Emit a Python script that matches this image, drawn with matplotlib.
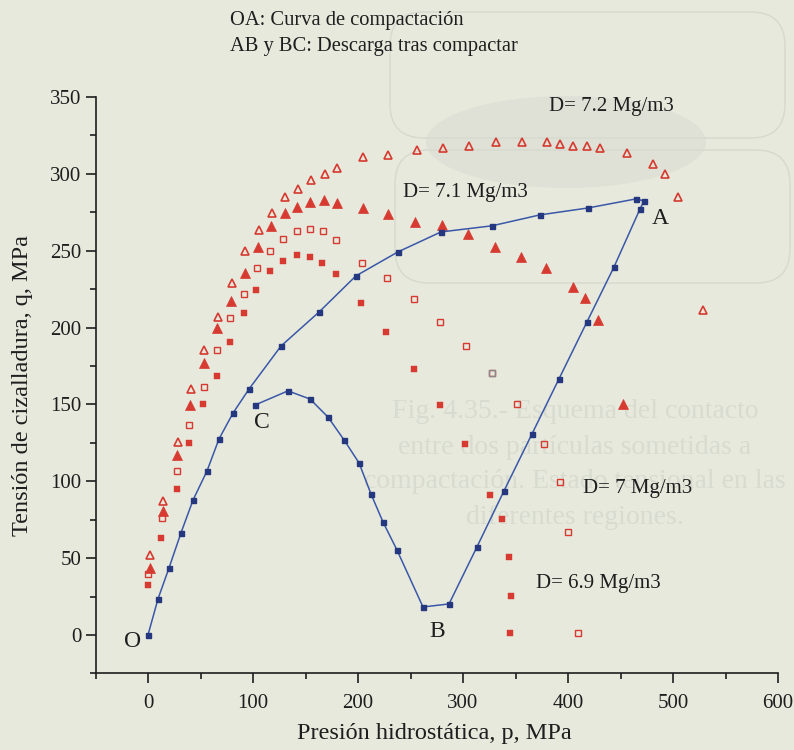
import matplotlib
matplotlib.use("Agg")
import matplotlib.pyplot as plt
from matplotlib.patches import Ellipse, FancyBboxPatch
from matplotlib.ticker import MultipleLocator

# ---- data: hydrostatic pressure p (MPa) vs shear stress q (MPa) ----
# compaction curve O-A followed by unloading A-B and B-C
path_p = [0, 9.5, 20, 31.4, 42.9, 56.2, 67.6, 81, 96.2, 126.7, 162.9, 198, 238,
          279, 327.6, 373.3, 419, 464.8, 472.4, 468.6, 443.8, 418, 391.4, 365.7,
          339, 313.3, 286.7, 261.9, 237.1, 223.8, 212.4, 201, 186.7, 171.4,
          154.3, 133.3, 101.9]
path_q = [0, 23.4, 43.6, 66.4, 87.8, 106.7, 127.5, 144.4, 160, 188, 210.1, 233.6,
          249.2, 262.2, 266.2, 273.3, 277.8, 283.7, 282.4, 277.2, 239.4, 203.6,
          166.6, 130.8, 93.7, 57.3, 20.2, 18.2, 55.3, 73.5, 91.7, 111.9, 126.9,
          141.8, 153.5, 158.8, 149.6]

# yield surfaces for each density
d72_p = [1.9, 14.3, 28.6, 41, 53.3, 66.7, 80, 92.4, 105.7, 118.1, 130.5, 142.9,
         155.2, 168.6, 180, 204.8, 228.6, 256.2, 281, 305.7, 331.4, 356.2, 380,
         392.4, 404.8, 418.1, 430.5, 456.2, 481, 492.4, 504.8, 528.6]
d72_q = [52, 87.2, 125.6, 160, 185.4, 206.9, 229, 249.8, 263.5, 274.6, 285, 290.2,
         296, 300, 303.8, 311, 312.3, 315.5, 316.8, 318.1, 320.8, 320.8, 320.8,
         319.5, 318.1, 318.1, 316.8, 313.6, 306.4, 300, 285, 211.4]

d71_p = [1.9, 14.3, 27.6, 40, 53.3, 65.7, 79, 92.4, 104.8, 117.1, 130.5, 141.9,
         154.3, 167.6, 180, 204.8, 228.6, 254.3, 280, 304.8, 330.5, 355.2, 379,
         404.8, 416.2, 428.6, 452.4]
d71_q = [43.6, 80.7, 117.1, 149.6, 177, 199.7, 217.3, 235.5, 252.4, 266.1, 274.6,
         278.5, 281.7, 283, 281, 277.8, 273.9, 268.7, 266.8, 260.9, 252.4, 245.9,
         238.8, 226.4, 219.3, 204.9, 150.3]

d70_p = [0, 13.3, 27.6, 39, 53.3, 65.7, 78.1, 91.4, 103.8, 116.2, 128.6, 141.9,
         154.3, 166.7, 179, 203.8, 227.6, 253.3, 278.1, 302.9, 327.6, 351.4,
         377.1, 392.4, 400, 409.5]
d70_q = [39.7, 76.1, 106.7, 136.6, 161.4, 185.4, 206.2, 221.9, 238.8, 249.8,
         257.6, 262.9, 264.2, 262.9, 257, 242, 232.3, 218.6, 203.6, 188, 170.5,
         150.3, 124.3, 99.5, 67, 1.3]

d69_p = [0, 12.4, 27.6, 39, 52.4, 65.7, 78.1, 91.4, 102.9, 116.2, 128.6, 141.9,
         154.3, 165.7, 179, 202.9, 226.7, 253.3, 278.1, 301.9, 325.7, 337.1,
         343.8, 345.7, 344.8]
d69_q = [32.5, 63.1, 95, 124.9, 150.3, 168.5, 190.6, 209.5, 224.5, 236.8, 243.3,
         247.2, 245.9, 242, 234.9, 216, 197.1, 173.1, 149.6, 124.3, 91.1, 75.5,
         50.7, 25.4, 1.3]

x_ticks = [0, 100, 200, 300, 400, 500, 600]
y_ticks = [0, 50, 100, 150, 200, 250, 300, 350]

W, H = 794, 750
BG = "#e7e9dd"
RED = "#d63a30"
NAVY = "#24377f"
LINE_BLUE = "#3a57a8"
INK = "#1e1e1e"
SERIF = ["Liberation Serif", "DejaVu Serif"]

plt.rcParams["font.family"] = SERIF

fig = plt.figure(figsize=(W / 100, H / 100), dpi=100, facecolor=BG)

# page layer behind the chart: faint shapes and caption (pixel coordinates)
bg = fig.add_axes([0, 0, 1, 1], zorder=-1)
bg.set_xlim(0, W)
bg.set_ylim(H, 0)
bg.axis("off")
bg.add_patch(Ellipse((566, 142), 280, 92, facecolor="#dfe1d6", edgecolor="none"))
for (x0, y0, x1, y1) in [(390, 12, 785, 138), (395, 150, 790, 283)]:
    bg.add_patch(FancyBboxPatch((x0, y0), x1 - x0, y1 - y0,
                                boxstyle="round,pad=0,rounding_size=34",
                                facecolor="none", edgecolor="#d6d9ce", lw=1.0))
caption = ["Fig. 4.35.- Esquema del contacto",
           "entre dos partículas sometidas a",
           "compactación. Estado tensional en las",
           "diferentes regiones."]
for i, line in enumerate(caption):
    bg.text(575, 412 + i * 35, line, ha="center", va="center",
            fontsize=20, color="#d8dbcf")

left, right, top, bottom = 95.5, 778, 97, 673.4
ax = fig.add_axes([left / W, 1 - bottom / H, (right - left) / W, (bottom - top) / H],
                  zorder=1)
ax.set_facecolor("none")
ax.set_xlim(-50, 600)
ax.set_ylim(-25, 350)

for s in ("top", "right"):
    ax.spines[s].set_visible(False)
for s in ("left", "bottom"):
    ax.spines[s].set_linewidth(1.2)
    ax.spines[s].set_color(INK)

ax.set_xticks(x_ticks)
ax.set_yticks(y_ticks)
ax.xaxis.set_minor_locator(MultipleLocator(50))
ax.yaxis.set_minor_locator(MultipleLocator(25))
ax.tick_params(which="major", length=7, width=1.2, color=INK,
               labelsize=15, labelcolor=INK)
ax.tick_params(which="minor", length=4, width=1.2, color=INK)
ax.tick_params(axis="x", which="major", pad=8)
ax.tick_params(axis="y", which="major", pad=3)

# density series
ax.plot(d72_p, d72_q, ls="none", marker="^", ms=6.3, mfc="none", mec=RED, mew=1.2)
ax.plot(d71_p, d71_q, ls="none", marker="^", ms=6.8, mfc=RED, mec=RED, mew=0.5)
ax.plot(d70_p, d70_q, ls="none", marker="s", ms=4.2, mfc="none", mec=RED, mew=1.0)
ax.plot(d70_p[20], d70_q[20], ls="none", marker="s", ms=4.2, mfc="none",
        mec="#8a8a8a", mew=1.0)
ax.plot(d69_p, d69_q, ls="none", marker="s", ms=4, mfc=RED, mec=RED, mew=0.3)

# loading / unloading path
ax.plot(path_p, path_q, color=LINE_BLUE, lw=1.1, marker="s", ms=3.6,
        mfc=NAVY, mec=NAVY, zorder=3)

txt = dict(fontsize=15, color=INK, va="center", ha="left")
ax.text(382, 343.5, "D= 7.2 Mg/m3", **txt)
ax.text(243, 287.6, "D= 7.1 Mg/m3", **txt)
ax.text(414, 95, "D= 7 Mg/m3", **txt)
ax.text(369.5, 33.8, "D= 6.9 Mg/m3", **txt)

pt = dict(fontsize=17, color=INK, va="center", ha="center")
ax.text(487.6, 271, "A", **pt)
ax.text(275, 2, "B", **pt)
ax.text(108.6, 138, "C", **pt)
ax.text(-15, -4.5, "O", **pt)

fig.text(230 / W, 1 - 20 / H, "OA: Curva de compactación", fontsize=14.8,
         color=INK, va="center", ha="left")
fig.text(230 / W, 1 - 47 / H, "AB y BC: Descarga tras compactar", fontsize=14.8,
         color=INK, va="center", ha="left")

fig.text(434 / W, 1 - 733 / H, "Presión hidrostática, p, MPa", fontsize=17.5,
         color=INK, va="center", ha="center")
fig.text(23 / W, 1 - 385 / H, "Tensión de cizalladura, q, MPa", fontsize=17.5,
         color=INK, va="center", ha="center", rotation=90)

fig.savefig("out.png", dpi=100, facecolor=BG)
